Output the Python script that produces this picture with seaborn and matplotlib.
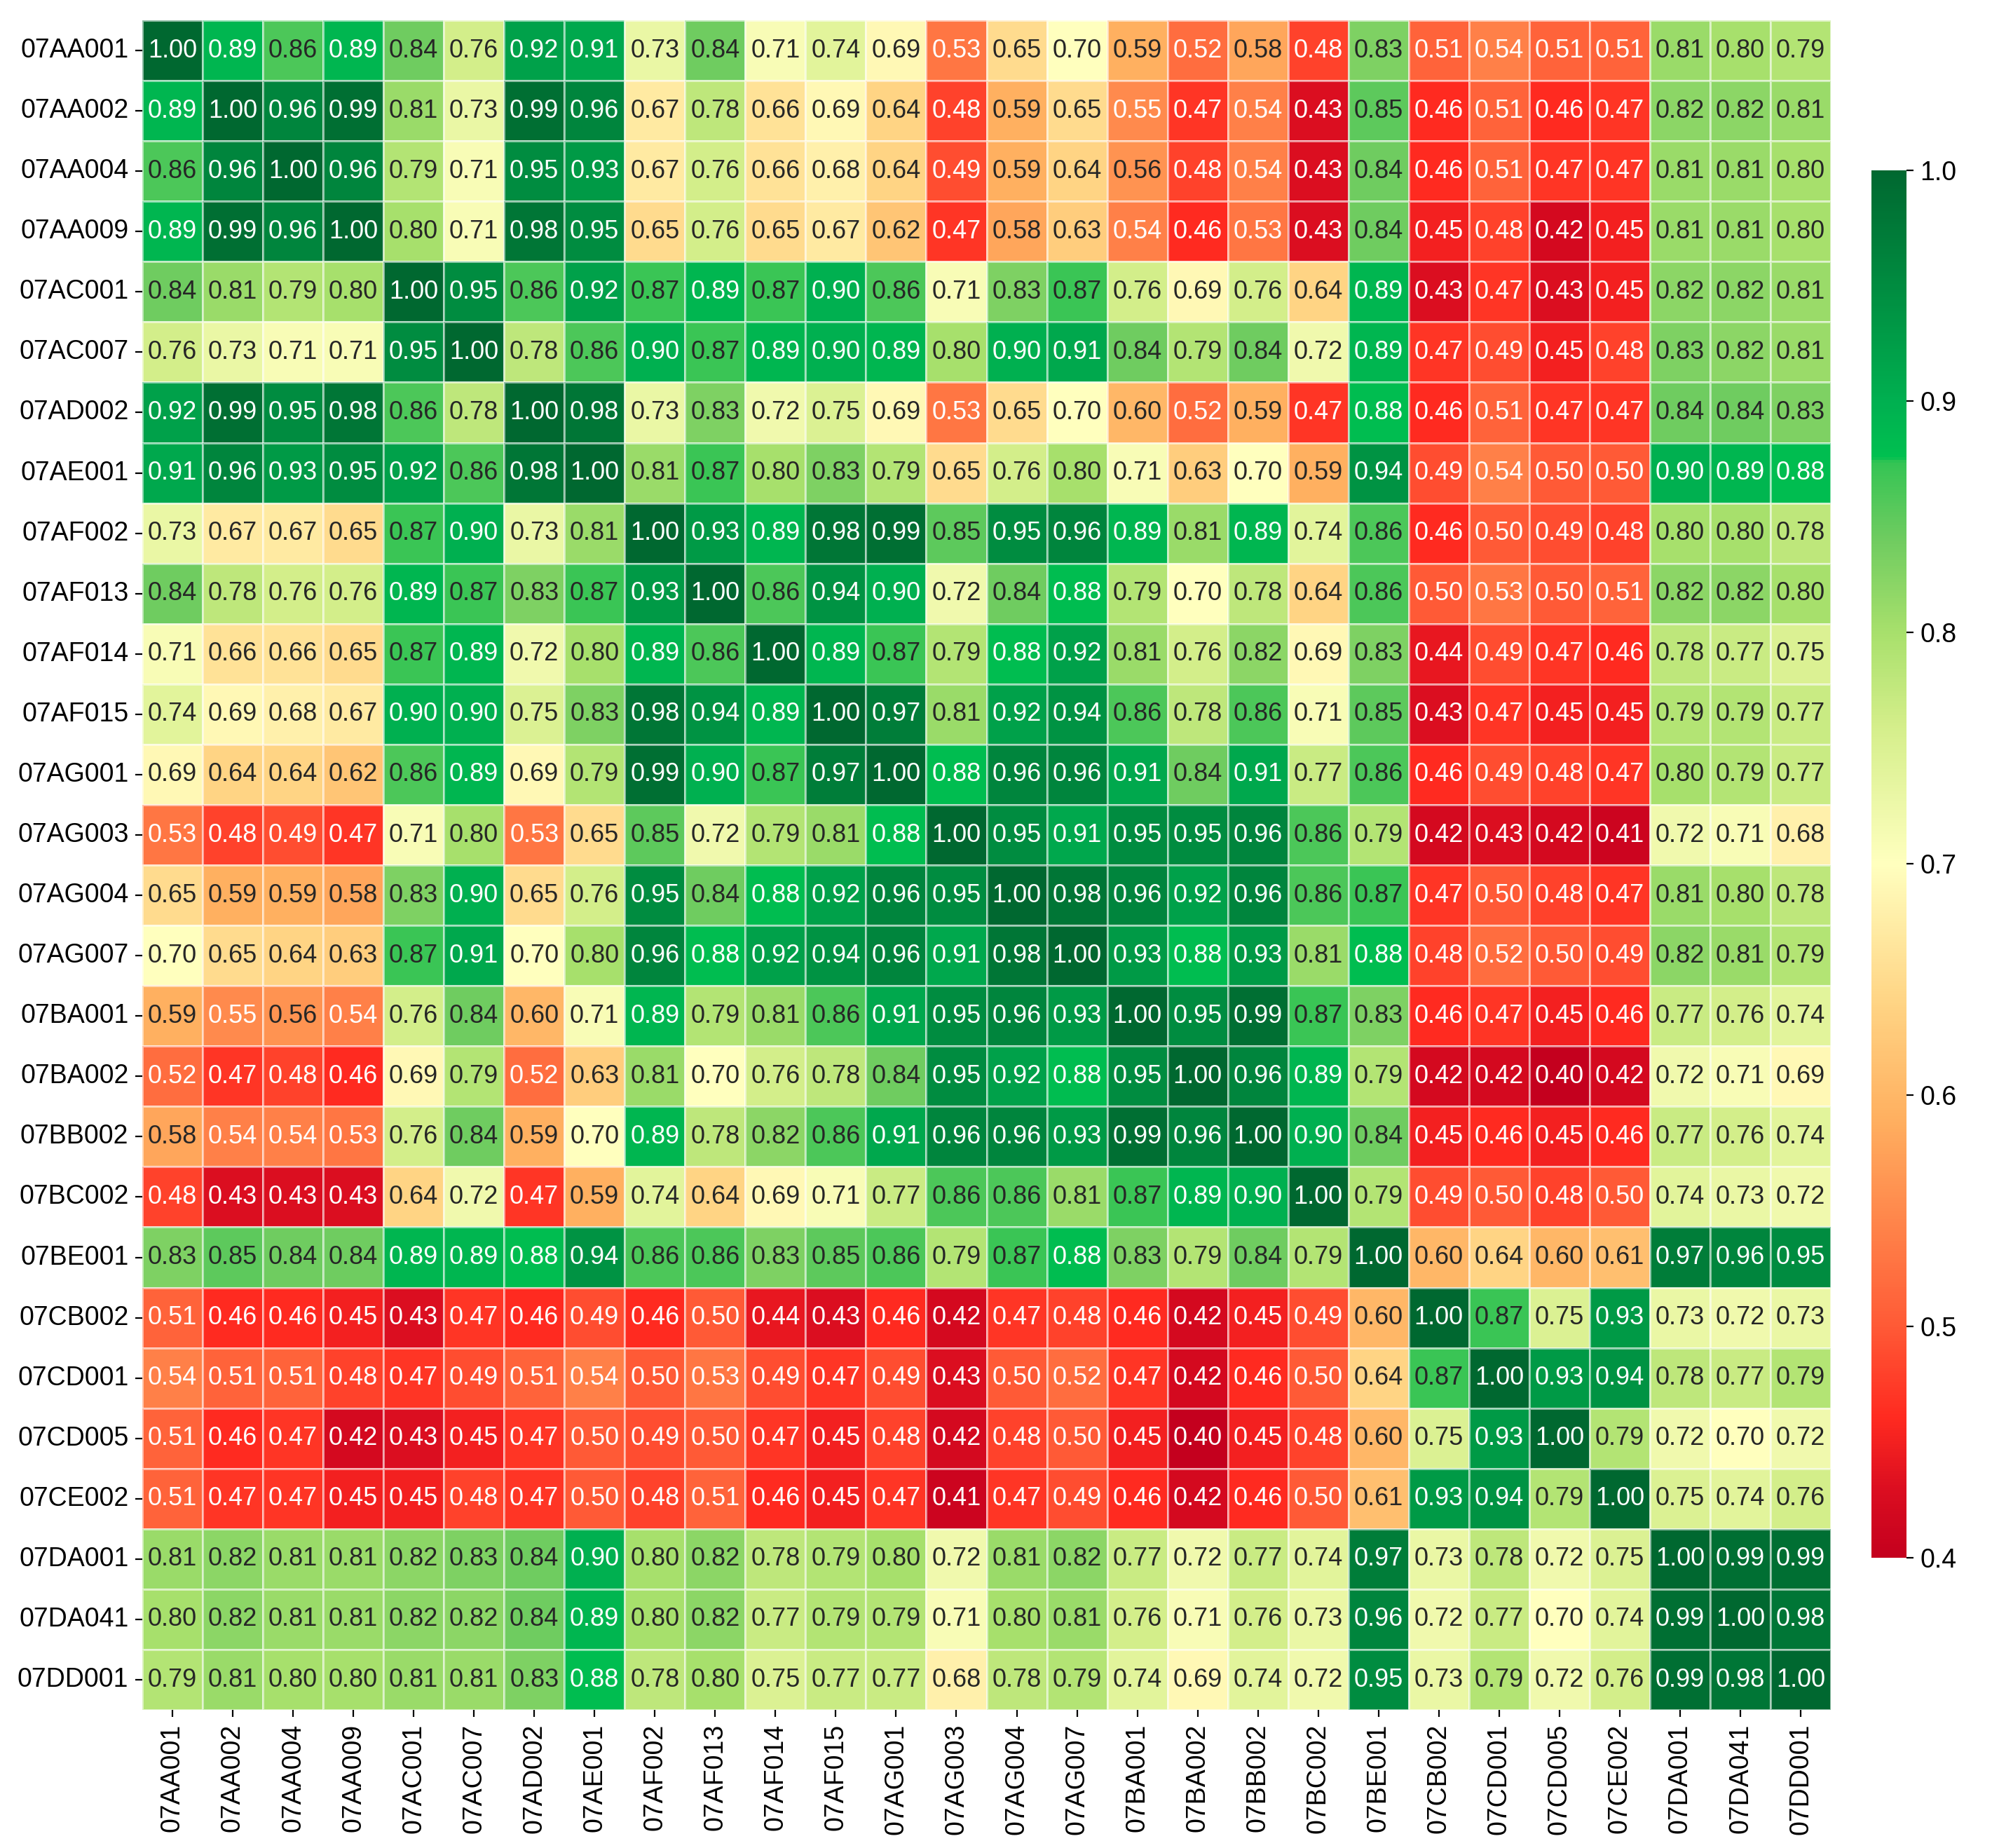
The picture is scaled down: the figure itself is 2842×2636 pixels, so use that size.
import numpy as np
import pandas as pd
import matplotlib
matplotlib.use("Agg")
import matplotlib.pyplot as plt
from matplotlib.colors import LinearSegmentedColormap
import seaborn as sns

# Estaciones
estaciones = ["07AA001", "07AA002", "07AA004", "07AA009", "07AC001", "07AC007", "07AD002",
              "07AE001", "07AF002", "07AF013", "07AF014", "07AF015", "07AG001", "07AG003",
              "07AG004", "07AG007", "07BA001", "07BA002", "07BB002", "07BC002", "07BE001",
              "07CB002", "07CD001", "07CD005", "07CE002", "07DA001", "07DA041", "07DD001"]

# Matriz de correlación (fila por fila)
corr_rows = [
    [1.00, 0.89, 0.86, 0.89, 0.84, 0.76, 0.92, 0.91, 0.73, 0.84, 0.71, 0.74, 0.69, 0.53, 0.65, 0.70, 0.59, 0.52, 0.58, 0.48, 0.83, 0.51, 0.54, 0.51, 0.51, 0.81, 0.80, 0.79],
    [0.89, 1.00, 0.96, 0.99, 0.81, 0.73, 0.99, 0.96, 0.67, 0.78, 0.66, 0.69, 0.64, 0.48, 0.59, 0.65, 0.55, 0.47, 0.54, 0.43, 0.85, 0.46, 0.51, 0.46, 0.47, 0.82, 0.82, 0.81],
    [0.86, 0.96, 1.00, 0.96, 0.79, 0.71, 0.95, 0.93, 0.67, 0.76, 0.66, 0.68, 0.64, 0.49, 0.59, 0.64, 0.56, 0.48, 0.54, 0.43, 0.84, 0.46, 0.51, 0.47, 0.47, 0.81, 0.81, 0.80],
    [0.89, 0.99, 0.96, 1.00, 0.80, 0.71, 0.98, 0.95, 0.65, 0.76, 0.65, 0.67, 0.62, 0.47, 0.58, 0.63, 0.54, 0.46, 0.53, 0.43, 0.84, 0.45, 0.48, 0.42, 0.45, 0.81, 0.81, 0.80],
    [0.84, 0.81, 0.79, 0.80, 1.00, 0.95, 0.86, 0.92, 0.87, 0.89, 0.87, 0.90, 0.86, 0.71, 0.83, 0.87, 0.76, 0.69, 0.76, 0.64, 0.89, 0.43, 0.47, 0.43, 0.45, 0.82, 0.82, 0.81],
    [0.76, 0.73, 0.71, 0.71, 0.95, 1.00, 0.78, 0.86, 0.90, 0.87, 0.89, 0.90, 0.89, 0.80, 0.90, 0.91, 0.84, 0.79, 0.84, 0.72, 0.89, 0.47, 0.49, 0.45, 0.48, 0.83, 0.82, 0.81],
    [0.92, 0.99, 0.95, 0.98, 0.86, 0.78, 1.00, 0.98, 0.73, 0.83, 0.72, 0.75, 0.69, 0.53, 0.65, 0.70, 0.60, 0.52, 0.59, 0.47, 0.88, 0.46, 0.51, 0.47, 0.47, 0.84, 0.84, 0.83],
    [0.91, 0.96, 0.93, 0.95, 0.92, 0.86, 0.98, 1.00, 0.81, 0.87, 0.80, 0.83, 0.79, 0.65, 0.76, 0.80, 0.71, 0.63, 0.70, 0.59, 0.94, 0.49, 0.54, 0.50, 0.50, 0.90, 0.89, 0.88],
    [0.73, 0.67, 0.67, 0.65, 0.87, 0.90, 0.73, 0.81, 1.00, 0.93, 0.89, 0.98, 0.99, 0.85, 0.95, 0.96, 0.89, 0.81, 0.89, 0.74, 0.86, 0.46, 0.50, 0.49, 0.48, 0.80, 0.80, 0.78],
    [0.84, 0.78, 0.76, 0.76, 0.89, 0.87, 0.83, 0.87, 0.93, 1.00, 0.86, 0.94, 0.90, 0.72, 0.84, 0.88, 0.79, 0.70, 0.78, 0.64, 0.86, 0.50, 0.53, 0.50, 0.51, 0.82, 0.82, 0.80],
    [0.71, 0.66, 0.66, 0.65, 0.87, 0.89, 0.72, 0.80, 0.89, 0.86, 1.00, 0.89, 0.87, 0.79, 0.88, 0.92, 0.81, 0.76, 0.82, 0.69, 0.83, 0.44, 0.49, 0.47, 0.46, 0.78, 0.77, 0.75],
    [0.74, 0.69, 0.68, 0.67, 0.90, 0.90, 0.75, 0.83, 0.98, 0.94, 0.89, 1.00, 0.97, 0.81, 0.92, 0.94, 0.86, 0.78, 0.86, 0.71, 0.85, 0.43, 0.47, 0.45, 0.45, 0.79, 0.79, 0.77],
    [0.69, 0.64, 0.64, 0.62, 0.86, 0.89, 0.69, 0.79, 0.99, 0.90, 0.87, 0.97, 1.00, 0.88, 0.96, 0.96, 0.91, 0.84, 0.91, 0.77, 0.86, 0.46, 0.49, 0.48, 0.47, 0.80, 0.79, 0.77],
    [0.53, 0.48, 0.49, 0.47, 0.71, 0.80, 0.53, 0.65, 0.85, 0.72, 0.79, 0.81, 0.88, 1.00, 0.95, 0.91, 0.95, 0.95, 0.96, 0.86, 0.79, 0.42, 0.43, 0.42, 0.41, 0.72, 0.71, 0.68],
    [0.65, 0.59, 0.59, 0.58, 0.83, 0.90, 0.65, 0.76, 0.95, 0.84, 0.88, 0.92, 0.96, 0.95, 1.00, 0.98, 0.96, 0.92, 0.96, 0.86, 0.87, 0.47, 0.50, 0.48, 0.47, 0.81, 0.80, 0.78],
    [0.70, 0.65, 0.64, 0.63, 0.87, 0.91, 0.70, 0.80, 0.96, 0.88, 0.92, 0.94, 0.96, 0.91, 0.98, 1.00, 0.93, 0.88, 0.93, 0.81, 0.88, 0.48, 0.52, 0.50, 0.49, 0.82, 0.81, 0.79],
    [0.59, 0.55, 0.56, 0.54, 0.76, 0.84, 0.60, 0.71, 0.89, 0.79, 0.81, 0.86, 0.91, 0.95, 0.96, 0.93, 1.00, 0.95, 0.99, 0.87, 0.83, 0.46, 0.47, 0.45, 0.46, 0.77, 0.76, 0.74],
    [0.52, 0.47, 0.48, 0.46, 0.69, 0.79, 0.52, 0.63, 0.81, 0.70, 0.76, 0.78, 0.84, 0.95, 0.92, 0.88, 0.95, 1.00, 0.96, 0.89, 0.79, 0.42, 0.42, 0.40, 0.42, 0.72, 0.71, 0.69],
    [0.58, 0.54, 0.54, 0.53, 0.76, 0.84, 0.59, 0.70, 0.89, 0.78, 0.82, 0.86, 0.91, 0.96, 0.96, 0.93, 0.99, 0.96, 1.00, 0.90, 0.84, 0.45, 0.46, 0.45, 0.46, 0.77, 0.76, 0.74],
    [0.48, 0.43, 0.43, 0.43, 0.64, 0.72, 0.47, 0.59, 0.74, 0.64, 0.69, 0.71, 0.77, 0.86, 0.86, 0.81, 0.87, 0.89, 0.90, 1.00, 0.79, 0.49, 0.50, 0.48, 0.50, 0.74, 0.73, 0.72],
    [0.83, 0.85, 0.84, 0.84, 0.89, 0.89, 0.88, 0.94, 0.86, 0.86, 0.83, 0.85, 0.86, 0.79, 0.87, 0.88, 0.83, 0.79, 0.84, 0.79, 1.00, 0.60, 0.64, 0.60, 0.61, 0.97, 0.96, 0.95],
    [0.51, 0.46, 0.46, 0.45, 0.43, 0.47, 0.46, 0.49, 0.46, 0.50, 0.44, 0.43, 0.46, 0.42, 0.47, 0.48, 0.46, 0.42, 0.45, 0.49, 0.60, 1.00, 0.87, 0.75, 0.93, 0.73, 0.72, 0.73],
    [0.54, 0.51, 0.51, 0.48, 0.47, 0.49, 0.51, 0.54, 0.50, 0.53, 0.49, 0.47, 0.49, 0.43, 0.50, 0.52, 0.47, 0.42, 0.46, 0.50, 0.64, 0.87, 1.00, 0.93, 0.94, 0.78, 0.77, 0.79],
    [0.51, 0.46, 0.47, 0.42, 0.43, 0.45, 0.47, 0.50, 0.49, 0.50, 0.47, 0.45, 0.48, 0.42, 0.48, 0.50, 0.45, 0.40, 0.45, 0.48, 0.60, 0.75, 0.93, 1.00, 0.79, 0.72, 0.70, 0.72],
    [0.51, 0.47, 0.47, 0.45, 0.45, 0.48, 0.47, 0.50, 0.48, 0.51, 0.46, 0.45, 0.47, 0.41, 0.47, 0.49, 0.46, 0.42, 0.46, 0.50, 0.61, 0.93, 0.94, 0.79, 1.00, 0.75, 0.74, 0.76],
    [0.81, 0.82, 0.81, 0.81, 0.82, 0.83, 0.84, 0.90, 0.80, 0.82, 0.78, 0.79, 0.80, 0.72, 0.81, 0.82, 0.77, 0.72, 0.77, 0.74, 0.97, 0.73, 0.78, 0.72, 0.75, 1.00, 0.99, 0.99],
    [0.80, 0.82, 0.81, 0.81, 0.82, 0.82, 0.84, 0.89, 0.80, 0.82, 0.77, 0.79, 0.79, 0.71, 0.80, 0.81, 0.76, 0.71, 0.76, 0.73, 0.96, 0.72, 0.77, 0.70, 0.74, 0.99, 1.00, 0.98],
    [0.79, 0.81, 0.80, 0.80, 0.81, 0.81, 0.83, 0.88, 0.78, 0.80, 0.75, 0.77, 0.77, 0.68, 0.78, 0.79, 0.74, 0.69, 0.74, 0.72, 0.95, 0.73, 0.79, 0.72, 0.76, 0.99, 0.98, 1.00],
]

df = pd.DataFrame(corr_rows, index=estaciones, columns=estaciones)

# Escala de color personalizada (rojo -> amarillo -> verde)
vmin, vmax = 0.4, 1.0
anclas = [(0.40, '#c4001e'), (0.43, '#dc0e20'), (0.46, '#ff2a20'), (0.50, '#ff5a36'),
          (0.54, '#ff8048'), (0.59, '#ffb060'), (0.64, '#ffd484'), (0.70, '#ffffbf'),
          (0.76, '#d4ee8a'), (0.80, '#a8e06c'), (0.84, '#70cc60'), (0.874, '#34c454'),
          (0.876, '#00c050'), (0.90, '#00b050'), (1.00, '#006830')]
cmap = LinearSegmentedColormap.from_list(
    'rojo_verde', [((v - vmin) / (vmax - vmin), c) for v, c in anclas], N=512)

plt.rcParams['font.family'] = ['Liberation Sans', 'DejaVu Sans']

fig = plt.figure(figsize=(14.21, 13.18), dpi=200)
ax = fig.add_axes([0.0714, 0.0747, 0.8477, 0.9143])
cax = fig.add_axes([0.9395, 0.157, 0.0176, 0.751])

sns.heatmap(df, ax=ax, cbar_ax=cax, cmap=cmap, vmin=vmin, vmax=vmax,
            annot=True, fmt='.2f', annot_kws={'fontsize': 13},
            linewidths=0.4, linecolor=(1, 1, 1, 0.55))

ax.tick_params(axis='both', labelsize=13.5)
ax.set_xticklabels(ax.get_xticklabels(), rotation=90)
ax.set_yticklabels(ax.get_yticklabels(), rotation=0)
cax.tick_params(labelsize=13.5)
cax.set_yticks([0.4, 0.5, 0.6, 0.7, 0.8, 0.9, 1.0])

fig.savefig('out.png', dpi=200)
